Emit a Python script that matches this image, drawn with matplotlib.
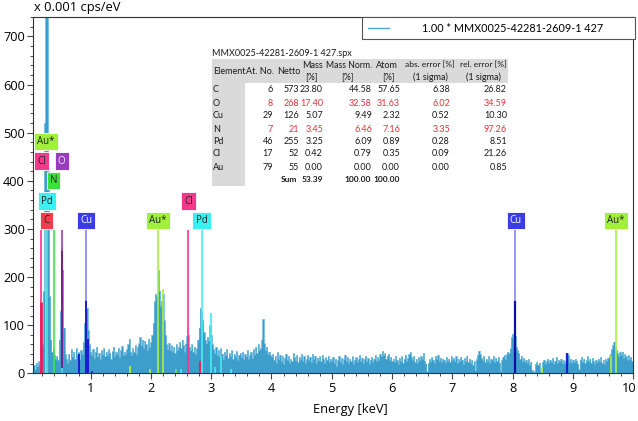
import numpy as np
import matplotlib
matplotlib.use("Agg")
import matplotlib.pyplot as plt
import matplotlib.transforms as mtransforms
from matplotlib.patches import Rectangle
from matplotlib.lines import Line2D

# ---------------- data ----------------
e_step = 0.02  # keV per channel (channels start at 0.02 keV)
counts = [
    5, 12, 18, 8, 22, 15, 25, 20, 35, 60,
    170, 520, 800, 780, 420, 160, 70, 45, 50, 38,
    30, 35, 28, 70, 130, 262, 215, 95, 40, 30,
    22, 40, 28, 50, 35, 45, 30, 52, 38, 44,
    30, 48, 40, 65, 105, 152, 135, 90, 60, 45,
    # 1-2 keV
    38, 50, 32, 45, 55, 35, 42, 30, 48, 40,
    52, 35, 45, 38, 50, 42, 30, 46, 55, 36,
    44, 40, 52, 34, 48, 56, 38, 45, 40, 50,
    60, 72, 45, 38, 52, 44, 58, 40, 55, 62,
    75, 58, 70, 52, 68, 60, 48, 72, 55, 65,
    # 2-3 keV
    80, 105, 150, 165, 160, 215, 172, 140, 150, 165,
    110, 80, 60, 50, 62, 48, 58, 45, 55, 42,
    60, 48, 55, 65, 52, 70, 58, 45, 62, 78,
    80, 55, 48, 60, 45, 55, 40, 52, 70, 95,
    135, 125, 110, 85, 70, 62, 75, 68, 100, 80,
    # 3-4 keV
    60, 50, 42, 55, 38, 48, 35, 52, 40, 30,
    45, 38, 50, 32, 42, 36, 48, 30, 40, 35,
    46, 28, 38, 42, 33, 45, 30, 40, 35, 48,
    30, 38, 44, 32, 50, 40, 55, 42, 60, 48,
    52, 70, 112, 62, 48, 55, 40, 45, 38, 35,
    # 4-5 keV
    40, 28, 36, 22, 44, 30, 38, 25, 35, 20,
    32, 40, 28, 36, 22, 30, 25, 42, 33, 27,
    38, 24, 34, 30, 40, 26, 35, 22, 30, 38,
    28, 34, 24, 40, 30, 36, 22, 32, 27, 35,
    25, 38, 30, 22, 33, 28, 36, 24, 30, 26,
    # 5-6 keV
    34, 22, 30, 15, 28, 36, 24, 32, 20, 30,
    38, 26, 34, 22, 30, 25, 35, 20, 28, 33,
    24, 30, 38, 26, 32, 22, 30, 36, 25, 31,
    20, 28, 34, 24, 30, 38, 26, 33, 28, 40,
    35, 46, 38, 42, 30, 36, 40, 28, 34, 26,
    # 6-7 keV
    30, 24, 36, 28, 20, 32, 26, 35, 22, 30,
    38, 26, 32, 40, 45, 34, 28, 36, 24, 30,
    22, 33, 27, 35, 30, 42, 26, 20, 4, 22,
    30, 25, 34, 28, 22, 36, 30, 38, 26, 32,
    24, 30, 28, 22, 34, 26, 30, 24, 36, 28,
    # 7-8 keV
    32, 26, 35, 22, 30, 25, 34, 28, 20, 31,
    26, 36, 24, 30, 22, 28, 18, 25, 6, 30,
    38, 46, 40, 32, 28, 36, 24, 30, 26, 35,
    22, 30, 28, 36, 24, 32, 26, 34, 22, 5,
    28, 34, 38, 30, 40, 45, 42, 52, 75, 82,
    # 8-9 keV
    70, 78, 55, 48, 42, 30, 36, 26, 32, 24,
    28, 22, 30, 18, 24, 6, 3, 4, 20, 24,
    18, 22, 5, 10, 24, 28, 20, 26, 30, 22,
    28, 24, 32, 20, 26, 34, 22, 28, 25, 30,
    22, 27, 20, 25, 42, 38, 24, 30, 22, 28,
    # 9-10 keV
    24, 30, 26, 20, 8, 28, 34, 24, 30, 22,
    28, 35, 26, 30, 22, 32, 26, 20, 28, 24,
    30, 26, 34, 22, 28, 20, 30, 26, 32, 35,
    40, 50, 58, 66, 55, 48, 42, 36, 44, 38,
    45, 32, 40, 35, 28, 38, 30, 34, 26, 30,
]
energy = (np.arange(len(counts)) + 1) * e_step

# element marker lines: energy, colour, top value
line_energy = [0.18, 0.255, 0.277, 0.285, 0.392, 0.525, 0.93, 2.12, 2.62, 2.84, 8.04, 9.71,
               0.18, 0.81, 0.95, 1.02, 0.525, 0.53, 0.93, 1.66, 1.98, 2.20, 2.41, 2.50,
               2.81, 2.99, 3.06, 3.17, 3.33, 8.04, 8.49, 8.90, 9.63]
line_color = ['#ff2f8c', '#b4f03c', '#f03c50', '#3ff0f0', '#3ee83e', '#9a40b8', '#8686f0',
              '#a8f03c', '#ff2f8c', '#3ff0f0', '#8686f0', '#a8f03c',
              '#e8205a', '#1c1cd0', '#1c1cd0', '#1c1cd0', '#7a2090', '#3ff0f0', '#1c1cd0',
              '#c8f03c', '#a8f03c', '#a8f03c', '#6ee83e', '#3ff0f0',
              '#e8205a', '#3ff0f0', '#3ff0f0', '#3ff0f0', '#3ff0f0', '#1010a0', '#a8f03c',
              '#1c1cd0', '#a8f03c']
line_top = [297, 297, 297, 297, 297, 297, 297, 297, 297, 297, 297, 297,
            148, 40, 72, 5, 255, 10, 150, 15, 8, 175, 8, 8,
            25, 125, 14, 35, 8, 150, 10, 42, 35]
line_width = [1.2] * 12 + [2.0, 1.4, 1.4, 1.2, 1.4, 1.2, 1.4, 1.2, 1.2, 1.2, 1.2, 1.2,
                          1.4, 1.2, 1.2, 1.2, 1.2, 1.6, 1.2, 1.6, 1.2]

# element label boxes: text, energy, centre value, face colour, text colour
lab_text = ['Au*', 'Cl', 'O', 'N', 'Pd', 'C', 'Cu', 'Au*', 'Cl', 'Pd', 'Cu', 'Au*']
lab_energy = [0.26, 0.185, 0.52, 0.385, 0.277, 0.27, 0.925, 2.12, 2.62, 2.84, 8.05, 9.71]
lab_value = [482, 441, 441, 400, 358, 317, 317, 317, 358, 317, 317, 317]
lab_face = ['#a3f03c', '#f2398a', '#9a3cc0', '#3de03d', '#3df0f0', '#f0404f', '#3c3ce6',
            '#a3f03c', '#f2398a', '#3df0f0', '#3c3ce6', '#a3f03c']
lab_tcol = ['#222222', '#222222', '#f4e8f4', '#222222', '#222222', '#222222', '#ffffff',
            '#222222', '#222222', '#222222', '#ffffff', '#222222']

# quantification table
table_title = 'MMX0025-42281-2609-1 427.spx'
elements = ['C', 'O', 'Cu', 'N', 'Pd', 'Cl', 'Au']
at_no = ['6', '8', '29', '7', '46', '17', '79']
netto = ['573', '268', '126', '21', '255', '52', '55']
mass = ['23.80', '17.40', '5.07', '3.45', '3.25', '0.42', '0.00']
mass_norm = ['44.58', '32.58', '9.49', '6.46', '6.09', '0.79', '0.00']
atom = ['57.65', '31.63', '2.32', '7.16', '0.89', '0.35', '0.00']
abs_err = ['6.38', '6.02', '0.52', '3.35', '0.28', '0.09', '0.00']
rel_err = ['26.82', '34.59', '10.30', '97.26', '8.51', '21.26', '0.85']
row_red = [False, True, False, True, False, False, False]
sum_mass = '53.39'
sum_norm = '100.00'
sum_atom = '100.00'

legend_label = '1.00 * MMX0025-42281-2609-1 427'

# ---------------- figure ----------------
W, H = 638, 421
fig = plt.figure(figsize=(W / 100, H / 100), dpi=100)
fig.patch.set_facecolor('white')

def fx(p):
    return p / W

def fy(p):
    return 1 - p / H

ax_l, ax_r, ax_t, ax_b = 33.3, 633.3, 16.7, 373.3
ax = fig.add_axes([fx(ax_l), fy(ax_b), (ax_r - ax_l) / W, (ax_b - ax_t) / H])

font = 'Open Sans'
ax.fill_between(energy, counts, step='mid', color='#3d9dcb', lw=0, zorder=2)
ax.step(energy, counts, where='mid', color='#5ab2da', lw=0.5, zorder=2)

for e, c, tp, w in zip(line_energy, line_color, line_top, line_width):
    ax.vlines(e, 0, tp, colors=c, lw=w, zorder=3)

for s, e, v, fc, tc in zip(lab_text, lab_energy, lab_value, lab_face, lab_tcol):
    ax.text(e, v, s, ha='center', va='center', fontsize=7, family=font, color=tc, zorder=5,
            bbox=dict(boxstyle='square,pad=0.32', fc=fc, ec='white', lw=0.6))

ax.set_xlim(0.05, 10.0)
ax.set_ylim(0, 741)
ax.set_xticks(range(1, 11))
ax.set_xticks(np.arange(0.2, 10.0, 0.2), minor=True)
ax.set_yticks(range(0, 800, 100))
ax.set_yticks(range(0, 741, 20), minor=True)
ax.tick_params(which='major', direction='out', length=4, width=0.8, color='#444444',
               labelsize=9.2, pad=2)
ax.tick_params(which='minor', direction='out', length=2.5, width=0.7, color='#444444')
for lab in ax.get_xticklabels() + ax.get_yticklabels():
    lab.set_family(font)
fig.canvas.draw()
last = ax.get_xticklabels()[-1]
last.set_transform(last.get_transform() + mtransforms.ScaledTranslation(-4 / 100, 0, fig.dpi_scale_trans))
for sp in ax.spines.values():
    sp.set_color('#333333')
    sp.set_linewidth(0.8)

fig.text(fx(34), fy(8), 'x 0.001 cps/eV', fontsize=9.3, family=font, va='center', ha='left')
fig.text(fx(350), fy(409), 'Energy [keV]', fontsize=9.3, family=font, va='center', ha='center')

# legend box
fig.patches.append(Rectangle((fx(362), fy(39)), (635 - 362) / W, 22 / H, transform=fig.transFigure,
                             fc='white', ec='#555555', lw=0.8, zorder=10))
fig.lines.append(Line2D([fx(368), fx(389)], [fy(28), fy(28)], transform=fig.transFigure,
                        color='#4aa8d8', lw=1.0, zorder=11))
fig.text(fx(422), fy(28), legend_label, fontsize=7.8, family='Lato', va='center', ha='left', zorder=12)

# table
tf = 'Lato'
ts = 6.5
fig.patches.append(Rectangle((fx(212), fy(83)), (508 - 212) / W, 24 / H, transform=fig.transFigure,
                             fc='#dadada', ec='none', zorder=6))
fig.patches.append(Rectangle((fx(212), fy(186)), (245 - 212) / W, (186 - 83) / H,
                             transform=fig.transFigure, fc='#dadada', ec='none', zorder=6))

def t(x, y, s, ha='left', color='#1a1a1a', bold=False, size=None):
    fig.text(fx(x), fy(y), s, fontsize=size or ts, family=tf, ha=ha, va='center', color=color,
             fontweight='bold' if bold else 'normal', zorder=7)

t(212, 53, table_title)
t(213, 71, 'Element')
t(246, 71, 'At. No.')
t(277, 71, 'Netto')
t(323, 65, 'Mass', ha='right')
t(311, 77, '[%]', ha='center')
t(372, 65, 'Mass Norm.', ha='right', size=6.2)
t(347, 77, '[%]', ha='center')
t(387, 65, 'Atom', ha='center')
t(388, 77, '[%]', ha='center')
t(455, 65, 'abs. error [%]', ha='right', size=6.1)
t(430, 77, '(1 sigma)', ha='center')
t(507, 65, 'rel. error [%]', ha='right', size=6.1)
t(483, 77, '(1 sigma)', ha='center')

row_y = [90, 103, 116, 129, 142, 154, 167]
for i, y in enumerate(row_y):
    c = '#e8303a' if row_red[i] else '#1a1a1a'
    t(213, y, elements[i])
    t(273, y, at_no[i], ha='right', color=c)
    t(299, y, netto[i], ha='right', color=c)
    t(323, y, mass[i], ha='right', color=c)
    t(372, y, mass_norm[i], ha='right', color=c)
    t(400, y, atom[i], ha='right', color=c)
    t(450, y, abs_err[i], ha='right', color=c)
    t(507, y, rel_err[i], ha='right', color=c)

t(297, 180, 'Sum', ha='right', bold=True, size=6.0)
t(323, 180, sum_mass, ha='right', bold=True, size=6.0)
t(371, 180, sum_norm, ha='right', bold=True, size=6.0)
t(400, 180, sum_atom, ha='right', bold=True, size=6.0)

fig.savefig('out.png', dpi=100)
